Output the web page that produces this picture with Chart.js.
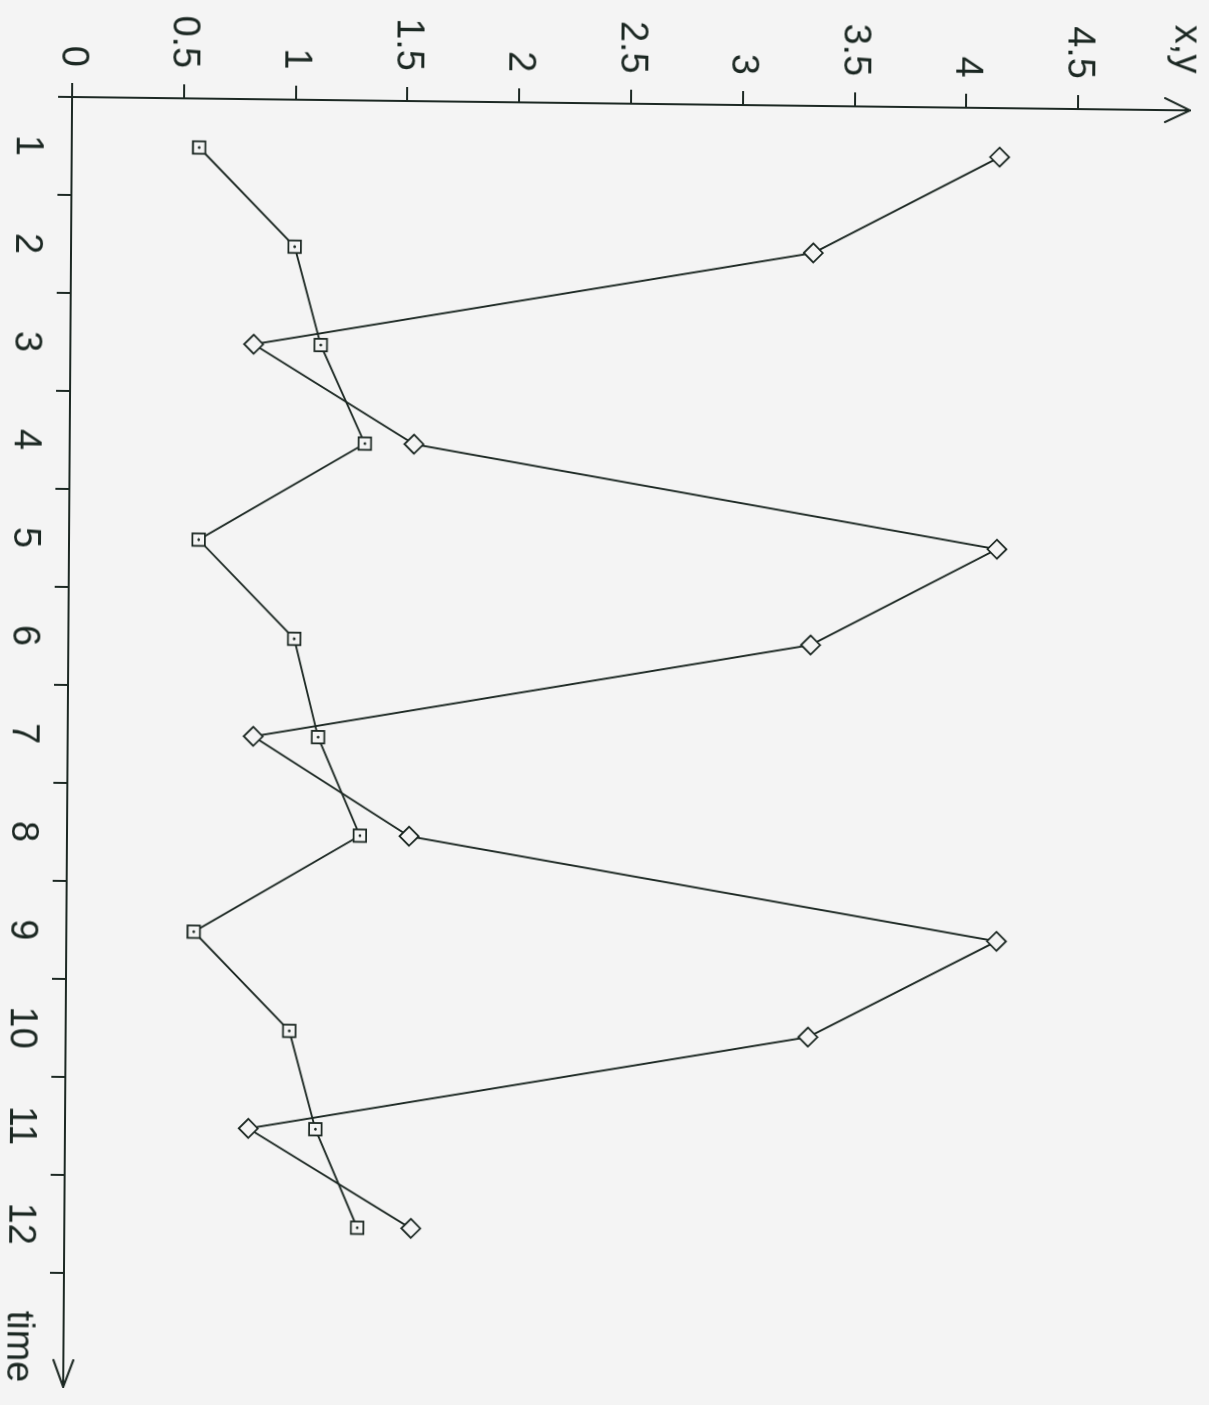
<!DOCTYPE html>
<html>
<head>
<meta charset="utf-8">
<title>x,y over time</title>
<script src="https://cdn.jsdelivr.net/npm/chart.js@4.4.1/dist/chart.umd.min.js"></script>
<style>
  html, body { margin: 0; padding: 0; background: #f4f4f4; overflow: hidden; }
  /* the plot sheet is laid on its side: time runs down the page, values run to the right;
     the sheet sits very slightly askew */
  #sheet { position: absolute; left: 0; top: 0; width: 1209px; height: 1405px;
           transform-origin: 72px 97px; transform: matrix(1, 0.012, -0.0069, 1, 0, 0); }
  #holder { position: absolute; left: 0; top: 0; width: 1405px; height: 1209px;
            transform-origin: 0 0; transform: translate(1209px, 0) rotate(90deg); }
  canvas { display: block; }
</style>
</head>
<body>
<div id="sheet"><div id="holder"><canvas id="plot" width="1405" height="1209"></canvas></div></div>
<script>
// time steps and their labels
const times = [1, 2, 3, 4, 5, 6, 7, 8, 9, 10, 11, 12];
const timeLabels = ['1', '2', '3', '4', '5', '6', '7', '8', '9', '10', '11', '12'];
// boundaries between time steps (tick marks only)
const timeBoundaries = [0.5, 1.5, 2.5, 3.5, 4.5, 5.5, 6.5, 7.5, 8.5, 9.5, 10.5, 11.5, 12.5];

// series x (squares) and series y (diamonds)
const xValues = [0.57, 1.00, 1.12, 1.32, 0.58, 1.01, 1.12, 1.31, 0.57, 1.00, 1.12, 1.31];
const yValues = [4.15, 3.32, 0.82, 1.54, 4.15, 3.32, 0.83, 1.53, 4.16, 3.32, 0.82, 1.55];

// value axis ticks
const valueTicks = [0, 0.5, 1, 1.5, 2, 2.5, 3, 3.5, 4, 4.5];
const valueTickLabels = ['0', '0.5', '1', '1.5', '2', '2.5', '3', '3.5', '4', '4.5'];

const valueAxisTitle = 'x,y';
const timeAxisTitle = 'time';

const INK = '#1c2823';
const PAPER = '#f4f4f4';
const FONT_FAMILY = "'Liberation Sans', Arial, sans-serif";
const FONT_SIZE = 38;

Chart.defaults.font.family = FONT_FAMILY;
Chart.defaults.font.size = FONT_SIZE;
Chart.defaults.color = INK;

const toPoints = vals => vals.map((v, i) => ({ x: times[i], y: v }));

// arrowheads on both axes and the two axis names
const axisDecor = {
  id: 'axisDecor',
  afterDraw(chart) {
    const { ctx, scales: { x, y } } = chart;
    const x0 = x.left;
    const yBase = y.bottom;
    ctx.save();
    ctx.strokeStyle = INK;
    ctx.lineWidth = 2;
    ctx.lineCap = 'round';
    ctx.lineJoin = 'round';
    ctx.beginPath();
    ctx.moveTo(x0 - 12, y.top + 25);
    ctx.lineTo(x0, y.top);
    ctx.lineTo(x0 + 12, y.top + 25);
    ctx.stroke();
    ctx.beginPath();
    ctx.moveTo(x.right - 27, yBase - 10);
    ctx.lineTo(x.right, yBase);
    ctx.lineTo(x.right - 27, yBase + 10);
    ctx.stroke();
    ctx.fillStyle = INK;
    ctx.font = FONT_SIZE + 'px ' + FONT_FAMILY;
    ctx.textAlign = 'right';
    ctx.textBaseline = 'alphabetic';
    ctx.fillText(valueAxisTitle, y.right - 37, y.top + 15);
    ctx.fillText(timeAxisTitle, x.right - 4, x.top + 56);
    ctx.restore();
  }
};

const lineStyle = {
  showLine: true,
  borderColor: INK,
  borderWidth: 1.9,
  tension: 0,
  pointBorderColor: INK,
  pointBackgroundColor: PAPER,
  pointBorderWidth: 1.8
};

new Chart(document.getElementById('plot'), {
  type: 'scatter',
  data: {
    datasets: [
      { label: 'x', data: toPoints(xValues), order: 1, pointStyle: 'rect', pointRadius: 8.8, ...lineStyle },
      { label: 'x centre', data: toPoints(xValues), order: 0, showLine: false, pointStyle: 'circle',
        pointRadius: 1.4, pointBorderWidth: 0, pointBackgroundColor: INK },
      { label: 'y', data: toPoints(yValues), order: 2, pointStyle: 'rectRot', pointRadius: 9.5, ...lineStyle }
    ]
  },
  options: {
    responsive: false,
    animation: false,
    events: [],
    layout: { padding: { top: 19, right: 18, left: 0, bottom: 0 } },
    plugins: { legend: { display: false }, tooltip: { enabled: false } },
    scales: {
      x: {
        type: 'linear',
        min: 0.5,
        max: 13.66,
        afterBuildTicks: s => {
          s.ticks = [...timeBoundaries, ...times].sort((a, b) => a - b).map(v => ({ value: v }));
        },
        afterFit: s => { s.height = 72; s.paddingLeft = 0; s.paddingRight = 0; },
        ticks: {
          autoSkip: false,
          maxRotation: 0,
          padding: 8,
          color: INK,
          callback: v => { const i = times.indexOf(v); return i >= 0 ? timeLabels[i] : ''; }
        },
        grid: {
          drawOnChartArea: false,
          drawTicks: true,
          tickLength: 14,
          lineWidth: 2,
          tickWidth: 2,
          tickColor: c => (c.tick && times.includes(c.tick.value)) ? 'rgba(0,0,0,0)' : INK
        },
        border: { display: true, color: INK, width: 2 }
      },
      y: {
        type: 'linear',
        min: 0,
        max: 5,
        afterBuildTicks: s => { s.ticks = valueTicks.map(v => ({ value: v })); },
        afterFit: s => { s.width = 97; s.paddingTop = 0; s.paddingBottom = 0; },
        ticks: {
          autoSkip: false,
          padding: 16,
          color: INK,
          callback: v => { const i = valueTicks.indexOf(v); return i >= 0 ? valueTickLabels[i] : ''; }
        },
        grid: {
          drawOnChartArea: false,
          drawTicks: true,
          tickLength: 14,
          lineWidth: 2,
          tickWidth: 2,
          tickColor: INK
        },
        border: { display: true, color: INK, width: 2 }
      }
    }
  },
  plugins: [axisDecor]
});
</script>
</body>
</html>
